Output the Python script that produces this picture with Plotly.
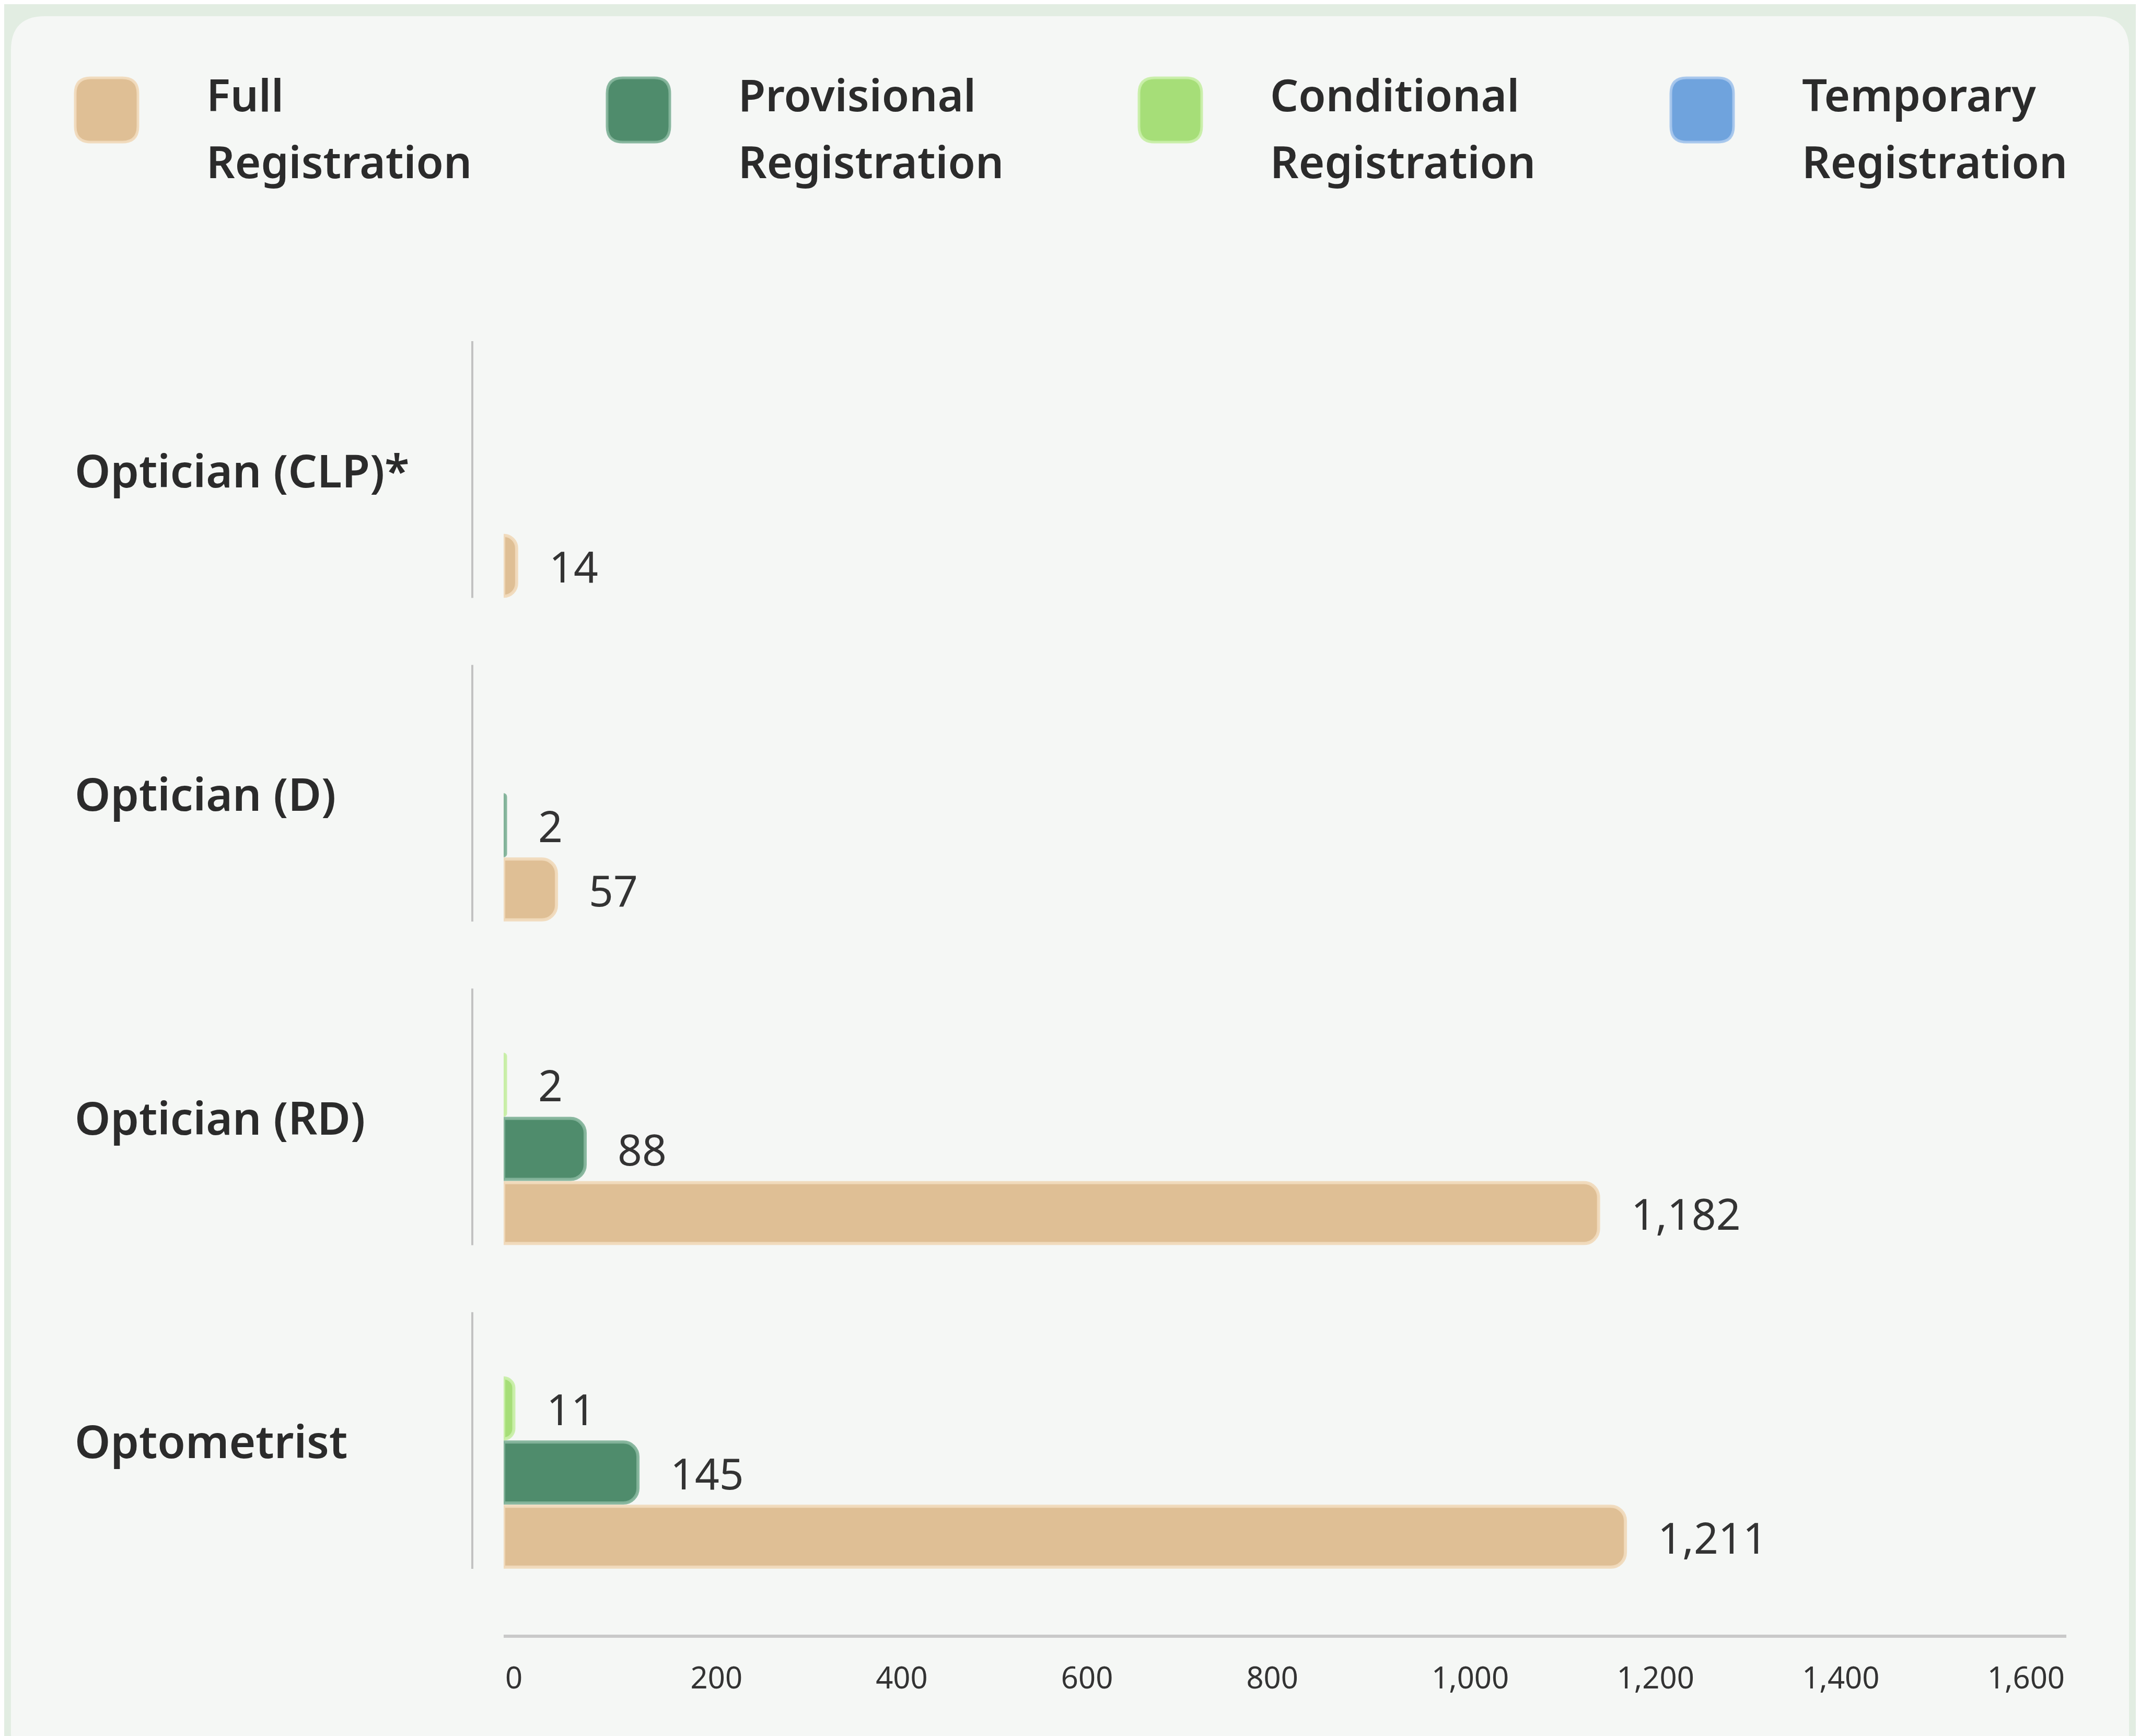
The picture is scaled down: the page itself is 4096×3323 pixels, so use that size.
import plotly.graph_objects as go

# ---------------- data ----------------
categories = ["Optometrist", "Optician (RD)", "Optician (D)", "Optician (CLP)*"]  # bottom -> top
series_names = ["Full Registration", "Provisional Registration",
                "Conditional Registration", "Temporary Registration"]
full_values = [1211, 1182, 57, 14]
provisional_values = [145, 88, 2, None]
conditional_values = [11, 2, None, None]
temporary_values = [None, None, None, None]
x_ticks = [0, 200, 400, 600, 800, 1000, 1200, 1400, 1600]

series_values = [full_values, provisional_values, conditional_values, temporary_values]
colors = ["#dfbf95", "#4f8c6c", "#a6de78", "#6fa3dd"]
edge_colors = ["rgba(240,218,188,0.95)", "rgba(132,180,155,0.95)",
               "rgba(200,238,168,0.95)", "rgba(165,198,236,0.95)"]

# ---------------- geometry (window pixels; page body has an 8px offset) ----------------
W, H = 4096, 3323
OFF = 8
ml, mr, mt, mb = 964 - OFF, 141 + OFF, 589 - OFF, 194 + OFF
pw, ph = W - ml - mr, H - mt - mb
bargap, bargroupgap = 0.207, 0.05
n = len(series_names)


def X(px):
    return (px - OFF - ml) / pw


def Y(py):
    return 1 - (py - OFF - mt) / ph


def rrect(x0, y0, x1, y1, r):
    pts = [("M", x0 + r, y0), ("L", x1 - r, y0), ("Q", x1, y0, x1, y0 + r),
           ("L", x1, y1 - r), ("Q", x1, y1, x1 - r, y1), ("L", x0 + r, y1),
           ("Q", x0, y1, x0, y1 - r), ("L", x0, y0 + r), ("Q", x0, y0, x0 + r, y0)]
    s = ""
    for p in pts:
        coords = p[1:]
        parts = [f"{X(coords[i]):.6f},{Y(coords[i+1]):.6f}" for i in range(0, len(coords), 2)]
        s += p[0] + " " + " ".join(parts) + " "
    return s + "Z"


fig = go.Figure()
for name, vals, c, ec in zip(series_names, series_values, colors, edge_colors):
    fig.add_trace(go.Bar(
        y=categories, x=vals, name=name, orientation="h",
        marker=dict(color=c, line=dict(color=ec, width=6)),
        hoverinfo="skip",
    ))

shapes = []
# card
shapes.append(dict(type="path", xref="paper", yref="paper", layer="below",
                   path=rrect(21, 31, 4075, H + 60, 65),
                   fillcolor="#f5f7f5", line=dict(width=0)))
# legend swatches
item_dx = 1018
for i, c in enumerate(colors):
    x0 = 144 + i * item_dx
    shapes.append(dict(type="path", xref="paper", yref="paper", layer="above",
                       path=rrect(x0, 149, x0 + 120, 272, 30),
                       fillcolor=c, line=dict(color=edge_colors[i], width=5)))
# separators per category
half = (1 - bargap) / 2
for i in range(len(categories)):
    shapes.append(dict(type="line", xref="paper", yref="y",
                       x0=X(904), x1=X(904), y0=i - half, y1=i + half,
                       line=dict(color="#c2c2c2", width=4)))

annotations = []
# legend text
for i, name in enumerate(series_names):
    first, second = name.split(" ", 1)
    for j, t in enumerate([first, second]):
        annotations.append(dict(
            text=t, xref="paper", yref="paper", x=X(393 + i * item_dx),
            y=Y(180 + j * 128), xanchor="left", yanchor="middle", showarrow=False,
            font=dict(family="Noto Sans", size=85, color="#2b2b2b", weight=600)))
# category labels
for i, cat in enumerate(categories):
    annotations.append(dict(
        text=cat, xref="paper", yref="y", x=X(141), y=i,
        xanchor="left", yanchor="middle", showarrow=False,
        font=dict(family="Noto Sans", size=87, color="#2b2b2b", weight=600)))
# value labels
slot = (1 - bargap) / n
for k, vals in enumerate(series_values):
    off = -(1 - bargap) / 2 + slot * (k + 0.5)
    for i, v in enumerate(vals):
        if v is None:
            continue
        annotations.append(dict(
            text=f"{v:,}", xref="x", yref="y", x=v, y=i + off,
            xanchor="left", yanchor="middle", xshift=60, showarrow=False,
            font=dict(family="Noto Sans", size=82, color="#333333")))

fig.update_layout(
    width=W, height=H,
    margin=dict(l=ml, r=mr, t=mt, b=mb, autoexpand=False),
    paper_bgcolor="#e2ede2", plot_bgcolor="rgba(0,0,0,0)",
    barmode="group", bargap=bargap, bargroupgap=bargroupgap, barcornerradius=28,
    showlegend=False, shapes=shapes, annotations=annotations,
    font=dict(family="Noto Sans"),
    xaxis=dict(range=[0, 1687], tickvals=x_ticks, tickformat=",d",
               ticklabelposition="outside right", showgrid=False, zeroline=False,
               showline=True, linecolor="#c9c9c9", linewidth=6, ticks="",
               ticklabelstandoff=27,
               tickfont=dict(family="Noto Sans", size=58, color="#333333")),
    yaxis=dict(type="category", categoryorder="array", categoryarray=categories,
               range=[-0.6, 3.5], showticklabels=False, showgrid=False,
               zeroline=False, showline=False),
)

fig.write_html("out.html")
